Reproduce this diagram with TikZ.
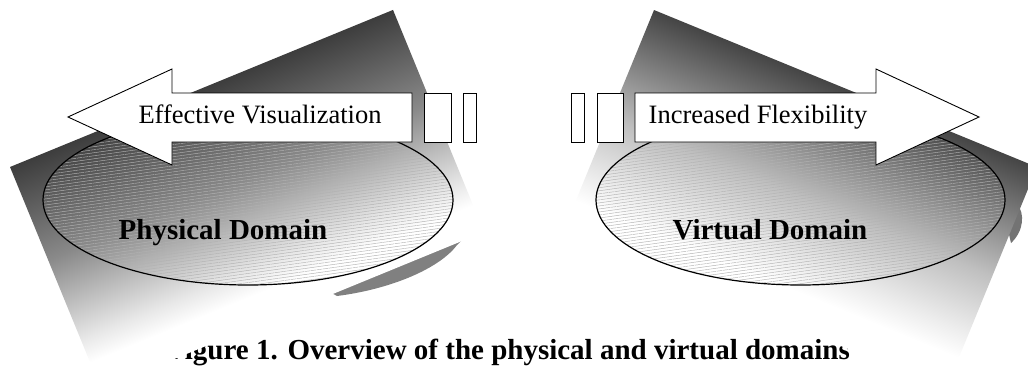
\documentclass[tikz,border=0pt]{standalone}
\usepackage{fontspec}
\setmainfont{Liberation Serif}
\usetikzlibrary{patterns.meta}
\pgfdeclareverticalshading{domainfade}{100bp}{color(0bp)=(white); color(31bp)=(white); color(36bp)=(black!9); color(54bp)=(black!46); color(75bp)=(black!76); color(100bp)=(black!76)}
\pgfdeclareverticalshading{domainfadeR}{100bp}{color(0bp)=(white); color(32bp)=(white); color(37.5bp)=(black!7); color(50.5bp)=(black!25); color(75bp)=(black!73); color(100bp)=(black!73)}

\begin{document}
\begin{tikzpicture}[x=1pt,y=-1pt,
    fade/.style={shading=domainfade},
    fadeR/.style={shading=domainfadeR},
    domainoval/.style={draw,line width=1.2pt,pattern={Lines[angle=8,distance=3pt,line width=0.45pt]},pattern color=black!30},
    blockarrow/.style={draw,fill=white,line width=0.9pt},
    spacer/.style={draw,fill=white,line width=0.9pt,inner sep=0pt,minimum height=49pt},
    arrowtext/.style={font=\fontsize{26.5}{30}\selectfont,anchor=base},
    domaintext/.style={font=\fontsize{29}{32}\selectfont\bfseries,anchor=base}]
\useasboundingbox (0,0) rectangle (1028,378);

% caption goes first, the planes hide its two ends
\node[domaintext] (caption) at (508.5,359) {Figure 1. Overview of the physical and virtual domains};

% shadows peeking out below the planes
\fill[gray] (337,296) .. controls (392,289) and (440,268) .. (457,245) -- (470,232) -- (330,292) -- cycle;
\fill[black!55] (1017,204) .. controls (1025,213) and (1024,231) .. (1011,243) -- (1008,230) -- cycle;

% the two shaded planes
\begin{scope}[transform canvas={rotate around={22.3:(10,167)}}]
  \shade[fade] (10,167) rectangle (424,407);
\end{scope}
\begin{scope}[transform canvas={rotate around={-22.3:(654,10)}}]
  \shade[fadeR] (654,10) rectangle (1068,250);
\end{scope}

% domains
\draw[domainoval] (248,200) ellipse [x radius=205, y radius=85];
\draw[domainoval] (800.5,200) ellipse [x radius=204.5, y radius=85];
\node[domaintext] (phys) at (223,239) {Physical Domain};
\node[domaintext] (virt) at (770,239) {Virtual Domain};

% block arrows
\draw[blockarrow] (68,117) -- (172,69) -- (172,93) -- (412,93) -- (412,142) -- (172,142) -- (172,165) -- cycle;
\draw[blockarrow] (979,117) -- (876,69) -- (876,93) -- (635,93) -- (635,142) -- (876,142) -- (876,165) -- cycle;
\node[arrowtext] (vis) at (260,123) {Effective Visualization};
\node[arrowtext] (flex) at (758,123) {Increased Flexibility};

\node[spacer,minimum width=27pt] (gapA) at (437.5,117.5) {};
\node[spacer,minimum width=13pt] (gapB) at (469.5,117.5) {};
\node[spacer,minimum width=13pt] (gapC) at (577.5,117.5) {};
\node[spacer,minimum width=26pt] (gapD) at (610,117.5) {};
\end{tikzpicture}
\end{document}
